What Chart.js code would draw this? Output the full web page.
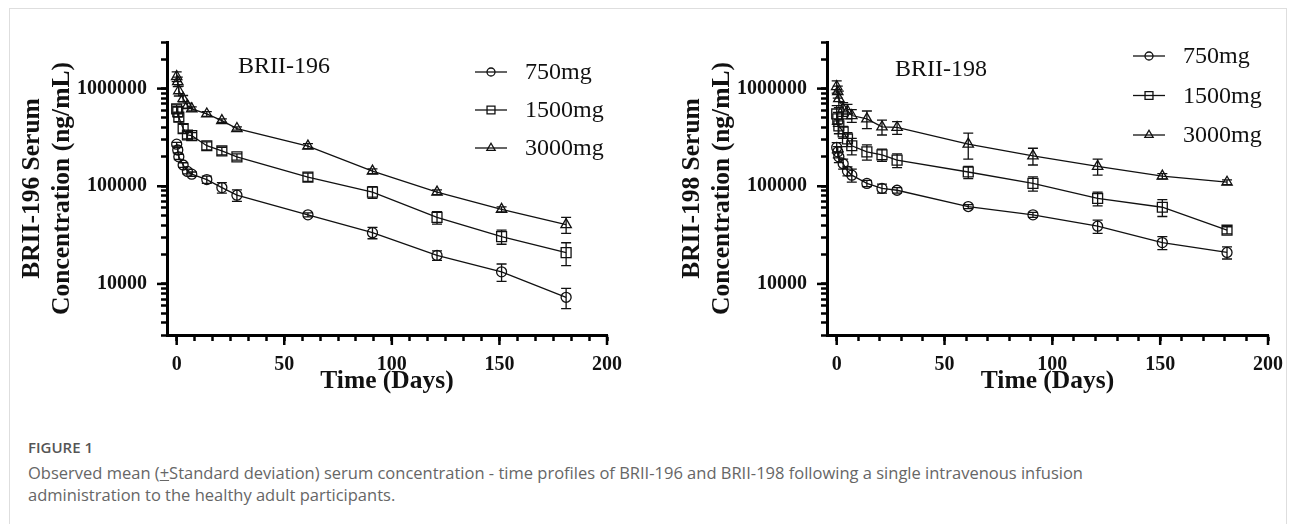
<!DOCTYPE html>
<html>
<head>
<meta charset="utf-8">
<script src="https://cdn.jsdelivr.net/npm/chart.js@4.4.1/dist/chart.umd.min.js"></script>
<style>
  body { margin:0; background:#fff; width:1295px; height:524px; overflow:hidden; position:relative; }
  #frame { position:absolute; left:9px; top:8px; width:1278px; height:600px; border:1px solid #dedede; box-sizing:border-box; }
  #c196 { position:absolute; left:0; top:0; }
  #c198 { position:absolute; left:660px; top:0; }
  .cap { position:absolute; left:28px; font-family:"Open Sans", sans-serif; color:#666; white-space:nowrap; }
  #figno { top:437px; font-size:15px; font-weight:600; color:#555; }
  #figtxt { top:462px; font-size:16.5px; line-height:22px; }
</style>
</head>
<body>
<div id="frame"></div>
<canvas id="c196" width="650" height="420"></canvas>
<canvas id="c198" width="635" height="420"></canvas>
<div class="cap" id="figno">FIGURE 1</div>
<div class="cap" id="figtxt">Observed mean (<u>+</u>Standard deviation) serum concentration - time profiles of BRII-196 and BRII-198 following a single intravenous infusion<br>administration to the healthy adult participants.</div>
<script>
// sampling times (days after infusion)
const days = [0, 0.5, 1, 3, 5, 7, 14, 21, 28, 61, 91, 121, 151, 181];
const doses = ["750mg", "1500mg", "3000mg"];

// BRII-196 mean and SD (ng/mL)
const b196_750 = [270000, 235000, 200000, 165000, 142000, 133000, 117000, 97000, 81000, 51000, 33500, 19600, 13300, 7300];
const b196_750_sd = [12000, 15000, 12000, 9000, 8000, 7000, 10000, 12000, 11000, 2500, 4500, 2200, 2700, 1700];
const b196_1500 = [620000, 580000, 510000, 390000, 335000, 330000, 260000, 230000, 200000, 124000, 87000, 48000, 30500, 20900];
const b196_1500_sd = [60000, 70000, 50000, 40000, 30000, 25000, 25000, 20000, 15000, 12000, 12000, 7000, 5000, 5500];
const b196_3000 = [1330000, 1180000, 950000, 790000, 670000, 620000, 550000, 470000, 390000, 258000, 143000, 87000, 58000, 40500];
const b196_3000_sd = [150000, 130000, 110000, 60000, 40000, 30000, 30000, 20000, 15000, 15000, 8000, 5000, 3500, 7500];

// BRII-198 mean and SD (ng/mL)
const b198_750 = [250000, 225000, 200000, 170000, 143000, 130000, 107000, 95000, 91000, 62000, 51000, 39000, 26500, 21000];
const b198_750_sd = [30000, 30000, 25000, 20000, 15000, 20000, 8000, 10000, 6000, 3000, 3000, 6000, 4000, 3000];
const b198_1500 = [550000, 490000, 415000, 360000, 305000, 260000, 225000, 210000, 185000, 140000, 107000, 75000, 61000, 35500];
const b198_1500_sd = [120000, 80000, 70000, 50000, 50000, 50000, 40000, 30000, 30000, 20000, 18000, 12000, 12000, 3000];
const b198_3000 = [1050000, 930000, 790000, 620000, 590000, 530000, 490000, 405000, 400000, 270000, 205000, 160000, 127000, 110000];
const b198_3000_sd = [150000, 130000, 150000, 100000, 100000, 80000, 100000, 70000, 60000, 80000, 40000, 30000, 8000, 6000];

// axis labels
const yMajor = [10000, 100000, 1000000];
const xMajor = [0, 50, 100, 150, 200];

const serif = "'Liberation Serif', 'Times New Roman', serif";
const styles = [
  { pointStyle: "circle", pointRadius: 5 },
  { pointStyle: "rect", pointRadius: 7 },
  { pointStyle: "triangle", pointRadius: 6 }
];

// error bars (mean +/- SD) through the chart's own scales
const errorBars = {
  id: "errorBars",
  afterDatasetsDraw(chart) {
    const ctx = chart.ctx, xs = chart.scales.x, ys = chart.scales.y;
    ctx.save();
    ctx.strokeStyle = "#111";
    ctx.lineWidth = 1.3;
    chart.data.datasets.forEach(ds => {
      ds.data.forEach((p, i) => {
        const sd = ds.sd[i];
        const x = xs.getPixelForValue(p.x);
        const y1 = ys.getPixelForValue(p.y + sd);
        const y2 = ys.getPixelForValue(Math.max(p.y - sd, 1));
        ctx.beginPath();
        ctx.moveTo(x, y1); ctx.lineTo(x, y2);
        ctx.moveTo(x - 5, y1); ctx.lineTo(x + 5, y1);
        ctx.moveTo(x - 5, y2); ctx.lineTo(x + 5, y2);
        ctx.stroke();
      });
    });
    ctx.restore();
  }
};

// lengthen the major tick marks
const tickMarks = {
  id: "tickMarks",
  afterDraw(chart) {
    const ctx = chart.ctx, a = chart.chartArea;
    ctx.save();
    ctx.strokeStyle = "#000";
    ctx.lineWidth = 2.5;
    chart.scales.y.ticks.forEach(t => {
      if (!yMajor.includes(t.value)) return;
      const y = chart.scales.y.getPixelForValue(t.value);
      ctx.beginPath(); ctx.moveTo(a.left - 10, y); ctx.lineTo(a.left, y); ctx.stroke();
    });
    chart.scales.x.ticks.forEach(t => {
      if (!t.major) return;
      const x = chart.scales.x.getPixelForValue(t.value);
      ctx.beginPath(); ctx.moveTo(x, a.bottom); ctx.lineTo(x, a.bottom + 10); ctx.stroke();
    });
    ctx.restore();
  }
};

// inline legend + panel label
const panelText = {
  id: "panelText",
  afterDraw(chart, args, opts) {
    const ctx = chart.ctx;
    ctx.save();
    ctx.textBaseline = "middle";
    ctx.font = "24px " + serif;
    ctx.fillStyle = "#111";
    ctx.textAlign = "center";
    ctx.fillText(opts.name, opts.nameX, opts.nameY);
    ctx.textAlign = "left";
    chart.data.datasets.forEach((ds, i) => {
      const y = opts.legY + i * opts.legGap;
      ctx.strokeStyle = "#111";
      ctx.lineWidth = 1.3;
      ctx.beginPath(); ctx.moveTo(opts.legX, y); ctx.lineTo(opts.legX + 32, y); ctx.stroke();
      ctx.fillStyle = "rgba(0,0,0,0)";
      Chart.helpers.drawPoint(ctx, { pointStyle: ds.pointStyle, radius: ds.pointRadius * 0.8, borderWidth: 1.3 }, opts.legX + 16, y);
      ctx.fillStyle = "#111";
      ctx.fillText(ds.label, opts.legX + 50, y + 1);
    });
    ctx.restore();
  }
};

function makeChart(id, name, series, sds, xStep, txt) {
  const datasets = series.map((vals, i) => ({
    label: doses[i],
    data: days.map((d, j) => ({ x: d, y: vals[j] })),
    sd: sds[i],
    borderColor: "#111",
    borderWidth: 1.3,
    pointStyle: styles[i].pointStyle,
    pointRadius: styles[i].pointRadius,
    pointBorderColor: "#111",
    pointBorderWidth: 1.3,
    pointBackgroundColor: "rgba(0,0,0,0)",
    tension: 0
  }));
  const tickGrid = { display: true, drawOnChartArea: false, drawTicks: true, tickLength: 6, tickWidth: 2.5, tickColor: "#000", color: "#000" };
  return new Chart(document.getElementById(id), {
    type: "line",
    data: { datasets },
    plugins: [errorBars, panelText, tickMarks],
    options: {
      responsive: false,
      animation: false,
      layout: { padding: { top: 42, right: txt.padRight, left: 0, bottom: 0 } },
      plugins: { legend: { display: false }, tooltip: { enabled: false }, panelText: txt },
      scales: {
        x: {
          type: "linear",
          min: -4.5, max: 200,
          afterBuildTicks(s) {
            const t = [];
            const n = Math.round(200 / xStep);
            for (let k = 0; k <= n; k++) {
              const v = k * xStep;
              t.push({ value: v, major: xMajor.some(m => Math.abs(m - v) < 1e-6) });
            }
            s.ticks = t;
          },
          afterFit(s) { s.height = 85; },
          grid: tickGrid,
          border: { display: true, color: "#000", width: 3 },
          ticks: {
            autoSkip: false, maxRotation: 0, padding: 12, color: "#111",
            font: { family: serif, size: 20, weight: "bold" },
            callback(v) { const m = xMajor.find(m => Math.abs(m - v) < 1e-6); return m === undefined ? "" : String(m); }
          },
          title: { display: true, text: "Time (Days)", color: "#111", padding: { top: 0, bottom: 23 },
                   font: { family: serif, size: 25.5, weight: "bold", lineHeight: 1.2 } }
        },
        y: {
          type: "logarithmic",
          min: 3000, max: 3000000,
          afterBuildTicks(s) {
            const t = [];
            for (let dec = 1000; dec <= 1000000; dec *= 10) {
              for (let m = 1; m <= 9; m++) {
                const v = m * dec;
                if (v >= 3000 && v <= 3000000) t.push({ value: v, major: yMajor.includes(v) });
              }
            }
            s.ticks = t;
          },
          afterFit(s) { s.width = 167; },
          grid: tickGrid,
          border: { display: true, color: "#000", width: 3 },
          ticks: {
            autoSkip: false, padding: 14, color: "#111",
            font: { family: serif, size: 20, weight: "bold" },
            callback(v) { return yMajor.includes(v) ? String(v) : ""; }
          },
          title: { display: true, text: [name + " Serum", "Concentration (ng/mL)"], color: "#111", padding: { top: 17, bottom: 0 },
                   font: { family: serif, size: 25.5, weight: "bold", lineHeight: 1.18 } }
        }
      }
    }
  });
}

makeChart("c196", "BRII-196", [b196_750, b196_1500, b196_3000], [b196_750_sd, b196_1500_sd, b196_3000_sd], 50 / 6,
  { padRight: 43, name: "BRII-196", nameX: 284, nameY: 67, legX: 475, legY: 72, legGap: 38 });
makeChart("c198", "BRII-198", [b198_750, b198_1500, b198_3000], [b198_750_sd, b198_1500_sd, b198_3000_sd], 10,
  { padRight: 27, name: "BRII-198", nameX: 281, nameY: 70, legX: 473, legY: 56, legGap: 39.5 });
</script>
</body>
</html>
